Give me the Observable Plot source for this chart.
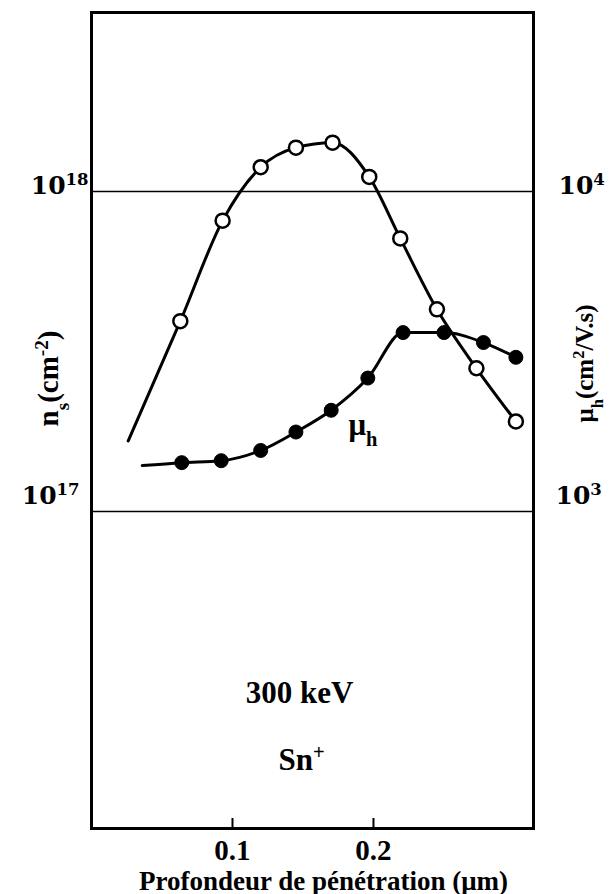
<!DOCTYPE html>
<html>
<head>
<meta charset="utf-8">
<script src="https://cdn.jsdelivr.net/npm/d3@7"></script>
<script src="https://cdn.jsdelivr.net/npm/@observablehq/plot@0.6"></script>
<style>
  html, body { margin: 0; padding: 0; background: white; }
  #chart { width: 609px; height: 894px; }
</style>
</head>
<body>
<div id="chart"></div>
<script>
// Sheet carrier density n_s (open circles); first entry is the start of the curve (no marker)
const depthNs = [0.026, 0.063, 0.093, 0.120, 0.145, 0.171, 0.197, 0.219, 0.245, 0.273, 0.301];
const nsValues = [1.66e17, 3.93e17, 8.1e17, 1.19e18, 1.37e18, 1.42e18, 1.11e18, 7.13e17, 4.28e17, 2.8e17, 1.91e17];

// Hall mobility mu_h in cm^2/V.s (filled circles); first entry is the start of the curve (no marker)
const depthMu = [0.036, 0.064, 0.092, 0.120, 0.145, 0.170, 0.196, 0.221, 0.250, 0.278, 0.301];
const muValues = [1390, 1420, 1440, 1550, 1770, 2070, 2610, 3620, 3620, 3370, 3030];

// Tick values
const xTicks = [0.1, 0.2];
const nsTicks = [1e17, 1e18];      // left axis
const muTicks = [1e3, 1e4];        // right axis (same positions)
const muToNs = 1e14;               // 10^3 cm^2/V.s aligned with 10^17 cm^-2

const nsData = depthNs.map((d, i) => ({depth: d, value: nsValues[i]}));
const muData = depthMu.map((d, i) => ({depth: d, value: muValues[i] * muToNs}));

const serif = "Liberation Serif, Times New Roman, serif";
const slab = "DejaVu Serif, serif";
const supFmt = v => `10^{${Math.round(Math.log10(v))}}`;

const chart = Plot.plot({
  width: 609,
  height: 894,
  marginLeft: 91,
  marginRight: 76,
  marginTop: 12,
  marginBottom: 66,
  style: {background: "white", color: "black"},
  x: {domain: [0, 0.3135]},
  y: {type: "log", domain: [10 ** 16.009, 10 ** 18.559]},
  marks: [
    Plot.ruleY(nsTicks, {stroke: "black", strokeWidth: 1.5}),
    Plot.frame({stroke: "black", strokeWidth: 3}),
    Plot.tickX(xTicks, {x: d => d, stroke: "black", strokeWidth: 2, insetTop: 806}),
    Plot.axisX(xTicks, {tickSize: 0, tickPadding: 11, label: null, tickFormat: d => d.toFixed(1),
      fontSize: 29, fontFamily: serif, fontWeight: "bold"}),
    Plot.axisY([nsTicks[1]], {anchor: "left", tickSize: 0, tickPadding: 3, dy: -5, label: null,
      tickFormat: supFmt, fontSize: 25, fontFamily: slab, fontWeight: "bold"}),
    Plot.axisY([nsTicks[0]], {anchor: "left", tickSize: 0, tickPadding: 12, dy: -15, label: null,
      tickFormat: supFmt, fontSize: 25, fontFamily: slab, fontWeight: "bold"}),
    Plot.axisY([muTicks[1] * muToNs], {anchor: "right", tickSize: 0, tickPadding: 25, dy: -5, label: null,
      tickFormat: v => supFmt(v / muToNs), fontSize: 25, fontFamily: slab, fontWeight: "bold"}),
    Plot.axisY([muTicks[0] * muToNs], {anchor: "right", tickSize: 0, tickPadding: 22, dy: -15, label: null,
      tickFormat: v => supFmt(v / muToNs), fontSize: 25, fontFamily: slab, fontWeight: "bold"}),
    Plot.line(nsData, {x: "depth", y: "value", curve: "monotone-x", stroke: "black", strokeWidth: 3}),
    Plot.line(muData, {x: "depth", y: "value", curve: "monotone-x", stroke: "black", strokeWidth: 3}),
    Plot.dot(nsData.slice(1), {x: "depth", y: "value", r: 7, fill: "white", stroke: "black", strokeWidth: 2.5}),
    Plot.dot(muData.slice(1), {x: "depth", y: "value", r: 7, fill: "black", stroke: "black", strokeWidth: 1}),
    Plot.text(["μ_{h}"], {x: 0.1823, y: 1.73e17, text: d => d, textAnchor: "start", lineAnchor: "bottom",
      fontSize: 31, fontFamily: serif, fontWeight: "bold"}),
    Plot.text(["300 keV"], {x: 0.1475, y: 2.51e16, text: d => d, textAnchor: "middle", lineAnchor: "bottom",
      fontSize: 31, fontFamily: serif, fontWeight: "bold"}),
    Plot.text(["Sn^{+}"], {x: 0.1326, y: 1.55e16, text: d => d, textAnchor: "start", lineAnchor: "bottom",
      fontSize: 31, fontFamily: serif, fontWeight: "bold"}),
    Plot.text(["n_{s}(cm^{-2})"], {frameAnchor: "left", dx: -34, dy: -42, rotate: -90, text: d => d,
      textAnchor: "middle", lineAnchor: "bottom", fontSize: 29, fontFamily: serif, fontWeight: "bold"}),
    Plot.text(["μ_{h}(cm^{2}/V.s)"], {frameAnchor: "right", dx: 59, dy: -57, rotate: -90, text: d => d,
      textAnchor: "middle", lineAnchor: "bottom", fontSize: 25, fontFamily: serif, fontWeight: "bold"}),
    Plot.text(["Profondeur de pénétration (μm)"], {frameAnchor: "bottom", dx: 11, dy: 61, text: d => d,
      textAnchor: "middle", lineAnchor: "bottom", fontSize: 27, fontFamily: serif, fontWeight: "bold"})
  ]
});

// turn ^{..} and _{..} markup into super/subscript tspans
function richify(svg) {
  const NS = "http://www.w3.org/2000/svg";
  svg.querySelectorAll("text").forEach(t => {
    const s = t.textContent;
    if (!/[\^_]\{/.test(s)) return;
    while (t.firstChild) t.removeChild(t.firstChild);
    const re = /([\^_])\{([^}]*)\}|([^\^_]+)/g;
    let m;
    while ((m = re.exec(s))) {
      const ts = document.createElementNS(NS, "tspan");
      if (m[1]) {
        ts.textContent = m[2];
        ts.setAttribute("baseline-shift", m[1] === "^" ? "super" : "sub");
        ts.setAttribute("font-size", "66%");
      } else {
        ts.textContent = m[3];
      }
      t.appendChild(ts);
    }
  });
}
richify(chart);
document.getElementById("chart").appendChild(chart);
</script>
</body>
</html>
